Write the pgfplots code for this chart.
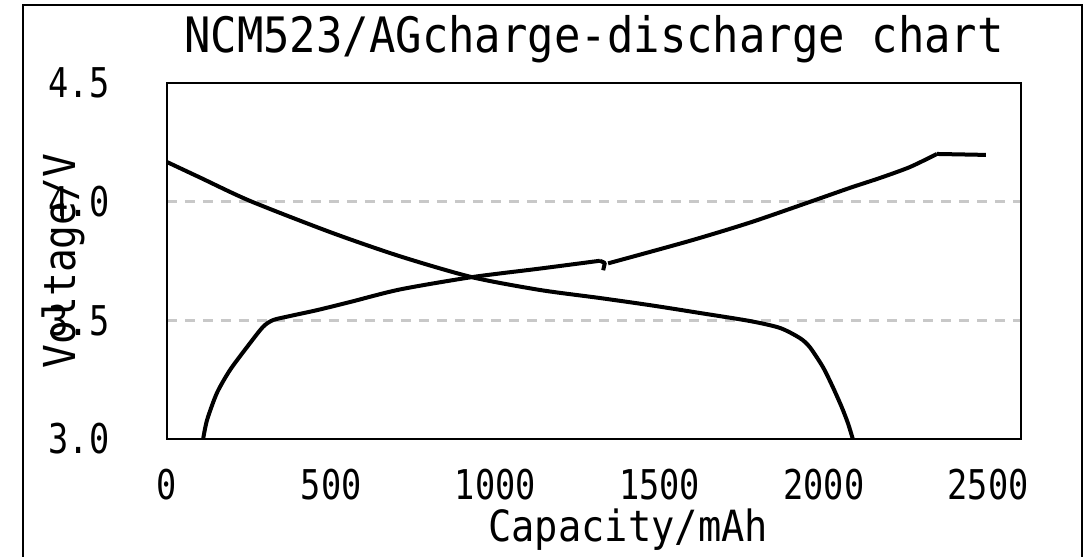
\documentclass[border=0pt]{standalone}
\usepackage{fontspec}
\setmainfont{DejaVu Sans Mono}
\newfontfamily\titlefont[FakeStretch=0.9]{DejaVu Sans Mono}
\newfontfamily\tickfont[FakeStretch=0.82]{DejaVu Sans Mono}
\usepackage{pgfplots}
\pgfplotsset{compat=1.18}
\definecolor{gridgray}{RGB}{200,200,200}

\begin{document}
\begin{tikzpicture}
% outer frame (bottom edge lies below the page)
\draw[line width=1pt] (11.5pt,-5pt) -- (11.5pt,276pt) -- (541pt,276pt) -- (541pt,-5pt);
\begin{axis}[at={(83.5pt,59pt)}, anchor=south west, scale only axis,
  width=427pt, height=178pt,
  xmin=0, xmax=2600, ymin=3, ymax=4.5,
  xtick={0,500,1000,1500,2000,2500}, xticklabels={0,500,1000,1500,2000,2500},
  ytick={3,3.5,4,4.5}, yticklabels={3.0,3.5,4.0,4.5},
  major tick length=0pt,
  axis line style={line width=1pt},
  ymajorgrids, grid style={gridgray, line width=1.2pt, dash pattern=on 5pt off 4pt},
  xticklabel style={font=\fontsize{20.5}{24}\tickfont, anchor=base, yshift=-30.5pt},
  yticklabel style={font=\fontsize{20.5}{24}\tickfont, anchor=center, xshift=-44pt},
  title={NCM523/AGcharge-discharge chart},
  title style={font=\fontsize{24.4}{28}\titlefont, at={(0.5,1.0506)}, anchor=base},
  xlabel={Capacity/mAh},
  xlabel style={font=\fontsize{21.5}{25}\titlefont, at={(0.54,-0.289)}, anchor=base},
  ylabel={Voltage/V},
  ylabel style={font=\fontsize{22}{26}\titlefont, at={(-0.1077,0.5)}, anchor=base},
  every axis plot/.append style={black, line width=2pt, line join=round, no markers},
]
% discharge
\addplot[smooth, tension=0.45] coordinates {
  (0,4.167) (100,4.102) (253,4.003) (500,3.870) (709,3.770) (928,3.682)
  (1135,3.628) (1318,3.594) (1475,3.563) (1622,3.531) (1775,3.497)
  (1866,3.468) (1927,3.425) (1957,3.387) (1997,3.303) (2027,3.219)
  (2054,3.135) (2073,3.067) (2088,3.000)};
% charge
\addplot[smooth, tension=0.45] coordinates {
  (110,3.000) (122,3.080) (152,3.194) (192,3.291) (244,3.388) (292,3.472)
  (323,3.501) (374,3.518) (457,3.543) (557,3.577) (709,3.630) (928,3.682)
  (1135,3.718) (1318,3.751)};
\addplot[sharp plot] coordinates {(1318,3.751) (1333,3.742) (1328,3.711)};
\addplot[smooth, tension=0.45] coordinates {
  (1343,3.740) (1592,3.835) (1775,3.912) (1951,3.996) (2079,4.058)
  (2171,4.100) (2262,4.146) (2344,4.201)};
\addplot[sharp plot] coordinates {(2344,4.201) (2493,4.197)};
\end{axis}
\pgfresetboundingbox
\useasboundingbox (0pt,0pt) rectangle (544.5pt,278.5pt);
\end{tikzpicture}
\end{document}
